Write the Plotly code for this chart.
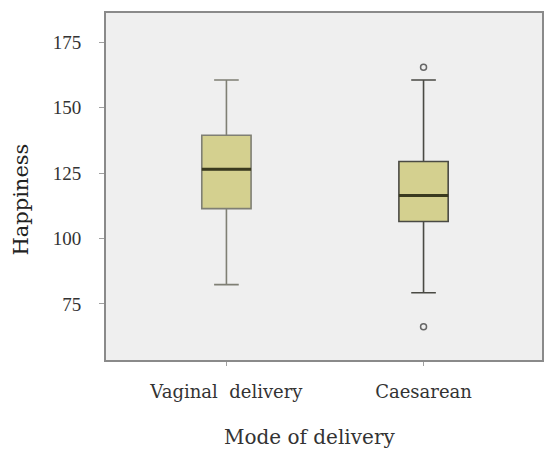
import plotly.graph_objects as go

categories = ["Vaginal  delivery", "Caesarean"]
tick_labels = ["Vaginal\u00a0\u00a0delivery", "Caesarean"]
lower_whisker = [82.4, 79.3]
q1_vals = [111.4, 106.5]
median_vals = [126.4, 116.4]
q3_vals = [139.4, 129.4]
upper_whisker = [160.5, 160.5]
outlier_cats = ["Caesarean", "Caesarean"]
outlier_vals = [165.4, 66.3]
y_ticks = [75, 100, 125, 150, 175]

serif = "'DejaVu Serif', serif"
tick_serif = "'Liberation Serif', serif"
box_line_colors = ["#7f7f74", "#4a4a44"]
box_width = 0.25

fig = go.Figure()
for i, c in enumerate(categories):
    fig.add_trace(go.Box(
        x=[c], q1=[q1_vals[i]], median=[median_vals[i]], q3=[q3_vals[i]],
        lowerfence=[lower_whisker[i]], upperfence=[upper_whisker[i]],
        width=box_width, whiskerwidth=0.5,
        fillcolor="#d4d08f", line=dict(color=box_line_colors[i], width=1.6),
        boxpoints=False, showlegend=False, hoverinfo="skip",
    ))
    fig.add_shape(type="line", xref="x", yref="y",
                  x0=i - box_width / 2, x1=i + box_width / 2,
                  y0=median_vals[i], y1=median_vals[i],
                  line=dict(color="#3a3a1e", width=3))

fig.add_trace(go.Scatter(
    x=outlier_cats, y=outlier_vals, mode="markers",
    marker=dict(symbol="circle-open", size=6, color="#666666", line=dict(width=1.5)),
    showlegend=False, hoverinfo="skip",
))

fig.add_annotation(text="Mode of delivery", xref="paper", yref="paper",
                   x=0.466, y=-0.222, xanchor="center", yanchor="middle",
                   showarrow=False, font=dict(size=20, family=serif, color="#333333"))
fig.add_annotation(text="Happiness", xref="paper", yref="paper",
                   x=-0.196, y=0.461, xanchor="center", yanchor="middle", textangle=-90,
                   showarrow=False, font=dict(size=21, family=serif, color="#222222"))

fig.update_layout(
    width=545, height=450,
    margin=dict(l=106, r=1, t=13, b=90),
    paper_bgcolor="white", plot_bgcolor="#efefef",
    font=dict(family=serif, color="#333333"),
    xaxis=dict(
        type="category", range=[-0.611, 1.601],
        tickvals=categories, ticktext=tick_labels,
        showline=True, mirror=True, linecolor="#8a8a8a", linewidth=2,
        ticks="outside", ticklen=4, tickcolor="#a0a0a0",
        ticklabelstandoff=10,
        tickfont=dict(size=18, family=serif, color="#333333"),
        showgrid=False, zeroline=False,
    ),
    yaxis=dict(
        range=[53.6, 186.1], tickvals=y_ticks,
        showline=True, mirror=True, linecolor="#8a8a8a", linewidth=2,
        ticks="outside", ticklen=5, tickcolor="#a0a0a0",
        ticklabelstandoff=14,
        tickfont=dict(size=19, family=tick_serif, color="#333333"),
        showgrid=False, zeroline=False,
    ),
)

fig.write_html(
    "out.html",
    config={"displayModeBar": False},
    post_script="document.body.style.margin='0';document.body.style.overflow='hidden';",
)
